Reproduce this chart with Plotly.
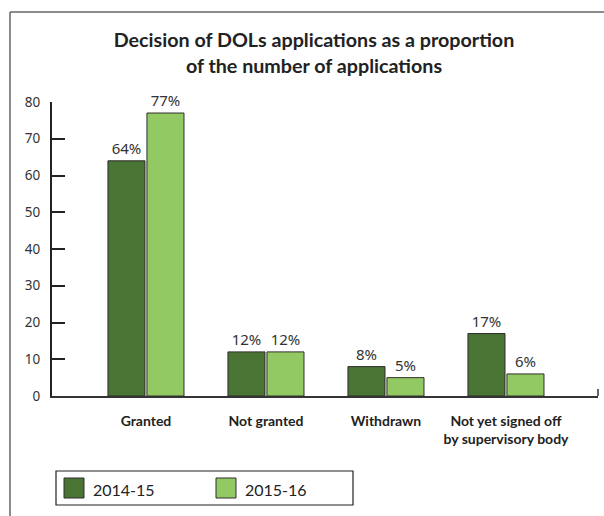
import plotly.graph_objects as go

categories = ["Granted", "Not granted", "Withdrawn", "Not yet signed off<br>by supervisory body"]
series_names = ["2014-15", "2015-16"]
values_2014_15 = [64, 12, 8, 17]
values_2015_16 = [77, 12, 5, 6]
y_ticks = [0, 10, 20, 30, 40, 50, 60, 70, 80]

colors = ["#4a7434", "#93c962"]
W, H = 604, 516
L, R, T, B = 52, 598, 102, 396  # plot area in pixels


def px_x(px):
    return (px - L) / (R - L)


def px_y(py):
    return (B - py) / (B - T)


fig = go.Figure()
for name, vals, col in zip(series_names, [values_2014_15, values_2015_16], colors):
    fig.add_trace(go.Bar(
        name=name,
        x=[f"<b>{c}</b>" for c in categories],
        y=vals,
        marker=dict(color=col, line=dict(color="#2e2e2e", width=1)),
        texttemplate="%{y}%",
        textposition="outside",
        constraintext="none",
        textfont=dict(family="Noto Sans", size=15, color="#333333"),
        cliponaxis=False,
        showlegend=False,
    ))

# frame lines around the figure and the small end tick on the category axis
shapes = [
    dict(type="line", xref="paper", yref="paper", x0=px_x(10), x1=px_x(604),
         y0=px_y(12), y1=px_y(12), line=dict(color="#666666", width=1.5)),
    dict(type="line", xref="paper", yref="paper", x0=px_x(10), x1=px_x(10),
         y0=px_y(12), y1=px_y(516), line=dict(color="#666666", width=1.5)),
    dict(type="line", xref="paper", yref="paper", x0=1, x1=1,
         y0=0, y1=px_y(389), line=dict(color="#333333", width=1.5)),
]

# legend box with colour swatches
legend_box = (56, 471, 353, 505)
swatch_x = [64, 216]
swatch_w, swatch_top, swatch_bot = 20, 478, 498
shapes.append(dict(type="rect", xref="paper", yref="paper",
                   x0=px_x(legend_box[0]), x1=px_x(legend_box[2]),
                   y0=px_y(legend_box[1]), y1=px_y(legend_box[3]),
                   line=dict(color="#222222", width=1.2), fillcolor="white"))
annotations = []
for name, col, sx in zip(series_names, colors, swatch_x):
    shapes.append(dict(type="rect", xref="paper", yref="paper",
                       x0=px_x(sx), x1=px_x(sx + swatch_w),
                       y0=px_y(swatch_top), y1=px_y(swatch_bot),
                       line=dict(color="#2e2e2e", width=1), fillcolor=col))
    annotations.append(dict(text=name, xref="paper", yref="paper",
                            x=px_x(sx + swatch_w + 7), y=px_y(489),
                            xanchor="left", yanchor="middle", showarrow=False,
                            font=dict(family="Lato", size=16, color="#222222")))

fig.update_layout(
    width=W, height=H,
    margin=dict(l=L, r=W - R, t=T, b=H - B),
    paper_bgcolor="white", plot_bgcolor="white",
    barmode="group", bargap=0.35, bargroupgap=0.05,
    title=dict(
        text="<b>Decision of DOLs applications as a proportion<br>of the number of applications</b>",
        x=314 / W, xanchor="center", y=1 - 47 / H, yanchor="top",
        font=dict(family="Lato", size=19.7, color="#222222"),
    ),
    showlegend=False,
    xaxis=dict(
        type="category", range=[-0.783, 3.767],
        showline=True, linecolor="#333333", linewidth=1.5,
        ticks="", showgrid=False,
        tickfont=dict(family="Lato", size=14, color="#222222"),
        ticklabelstandoff=11,
    ),
    yaxis=dict(
        range=[0, 80], tickvals=y_ticks,
        showline=True, linecolor="#222222", linewidth=2,
        ticks="inside", ticklen=13, tickwidth=2, tickcolor="#222222",
        showgrid=False, zeroline=False,
        tickfont=dict(family="Noto Sans", size=13.5, color="#333333"),
        ticklabelstandoff=7,
    ),
    shapes=shapes,
    annotations=annotations,
)

fig.write_html("out.html")
